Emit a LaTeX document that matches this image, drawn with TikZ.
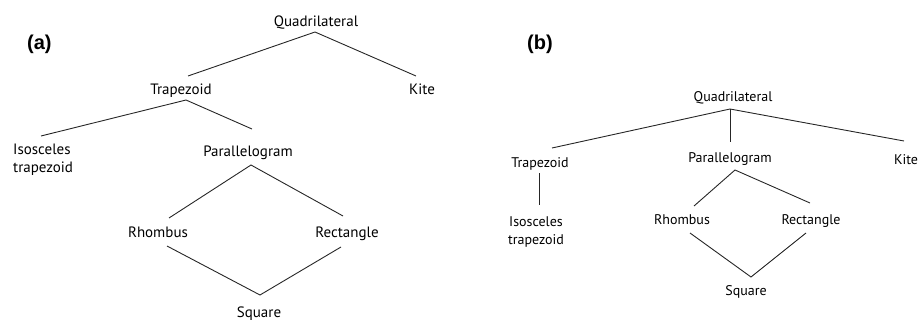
\documentclass[tikz,border=0pt]{standalone}
\usepackage{fontspec}
\setmainfont{PT Sans}
\newfontfamily\labelfont{Liberation Sans}
\begin{document}
\begin{tikzpicture}[x=1pt,y=-1pt,
  lbl/.style={inner sep=0pt,anchor=base,font=\fontsize{15}{18}\selectfont},
  lblb/.style={inner sep=0pt,anchor=base,font=\fontsize{14}{18}\selectfont},
  panel/.style={inner sep=0pt,anchor=base west,font=\labelfont\bfseries\fontsize{20}{24}\selectfont},
  edge/.style={line width=0.9pt,color=black!85}]
\useasboundingbox (0,0) rectangle (924,321);
% panel labels
\node[panel] (la) at (27,50) {(a)};
\node[panel] (lb) at (527,50) {(b)};
% ---- (a)
\node[lbl] (qa) at (316,27) {Quadrilateral};
\node[lbl] (ta) at (181,95) {Trapezoid};
\node[lbl] (ka) at (422,95) {Kite};
\node[lbl,anchor=base west,align=left] (isa) at (13,172) {Isosceles\\trapezoid};
\node[lbl] (pa) at (248,156) {Parallelogram};
\node[lbl] (rha) at (158,237) {Rhombus};
\node[lbl] (rea) at (347,237) {Rectangle};
\node[lbl] (sa) at (259,317) {Square};
\draw[edge] ([shift={(7,-19)}]ta.base) -- ([shift={(-1,5)}]qa.base) -- ([shift={(-6,-19)}]ka.base);
\draw[edge] ([shift={(28,-36)}]isa.base west) -- ([shift={(5,5)}]ta.base) -- ([shift={(4,-27)}]pa.base);
\draw[edge] ([shift={(11,-19)}]rha.base) -- ([shift={(3,9)}]pa.base) -- ([shift={(-4,-21)}]rea.base);
\draw[edge] ([shift={(9,9)}]rha.base) -- ([shift={(1,-22)}]sa.base) -- ([shift={(-6,10)}]rea.base);
% ---- (b)
\node[lblb] (qb) at (733,101) {Quadrilateral};
\node[lblb] (tb) at (540,167) {Trapezoid};
\node[lblb] (pb) at (730,162) {Parallelogram};
\node[lblb] (kb) at (906,164) {Kite};
\node[lblb,align=center] (ib) at (536,244) {Isosceles\\trapezoid};
\node[lblb] (rhb) at (682,224) {Rhombus};
\node[lblb] (reb) at (811,224) {Rectangle};
\node[lblb] (sb) at (746,295) {Square};
\draw[edge] ([shift={(12,-19)}]tb.base) -- ([shift={(-3,8)}]qb.base) -- ([shift={(-2,-23)}]kb.base);
\draw[edge] ([shift={(-3,8)}]qb.base) -- ([shift={(0,-20)}]pb.base);
\draw[edge] ([shift={(-1,6)}]tb.base) -- ([shift={(3,-39)}]ib.base);
\draw[edge] ([shift={(12,-18)}]rhb.base) -- ([shift={(5,8)}]pb.base) -- ([shift={(-1,-21)}]reb.base);
\draw[edge] ([shift={(8,9)}]rhb.base) -- ([shift={(5,-18)}]sb.base) -- ([shift={(-5,9)}]reb.base);
\end{tikzpicture}
\end{document}
